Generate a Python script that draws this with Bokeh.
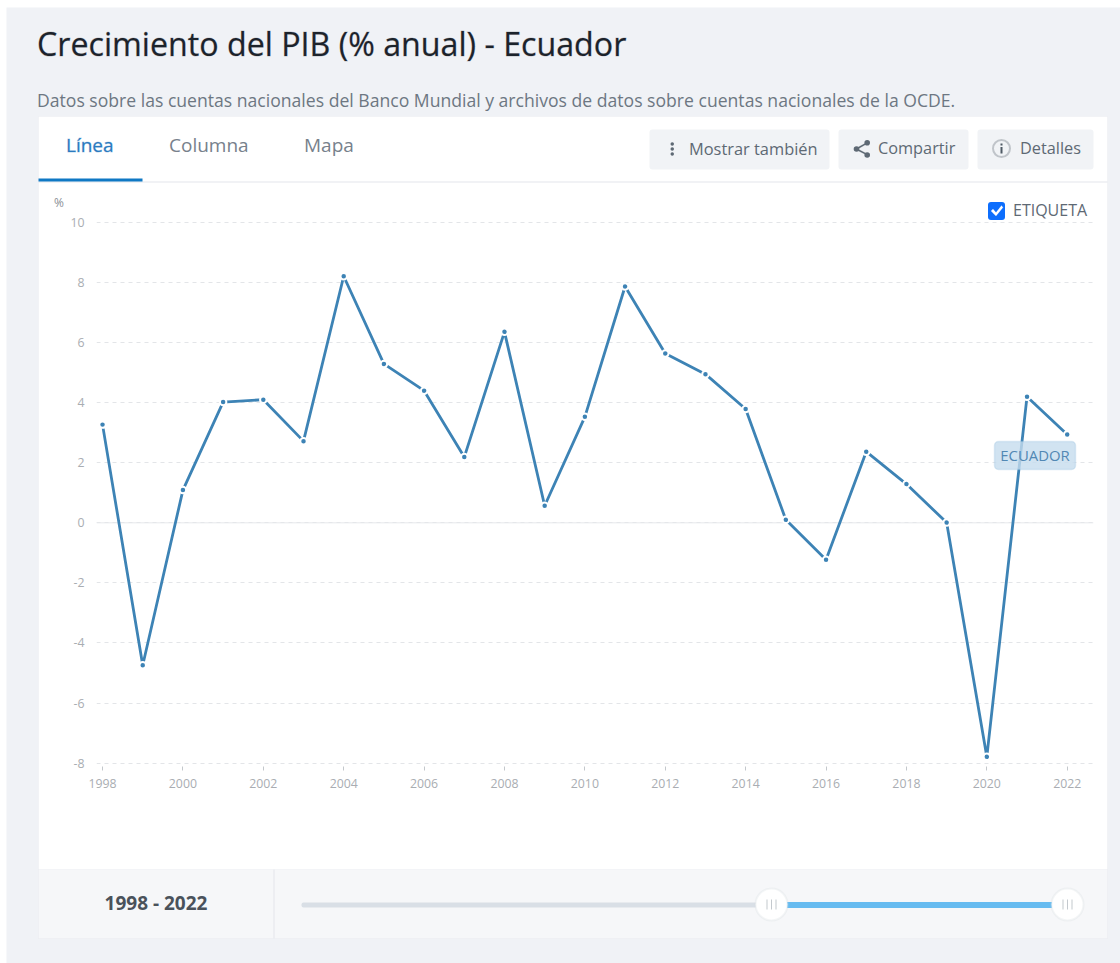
from bokeh.plotting import figure
from bokeh.models import Range1d, FixedTicker, Label, BoxAnnotation, PolyAnnotation, Span, PrintfTickFormatter
from bokeh.embed import file_html
from bokeh.resources import INLINE

years = list(range(1998, 2023))
growth = [3.27, -4.74, 1.09, 4.02, 4.10, 2.72, 8.21, 5.29, 4.40, 2.19, 6.36, 0.57, 3.53,
          7.87, 5.64, 4.95, 3.79, 0.10, -1.23, 2.37, 1.29, 0.01, -7.79, 4.20, 2.94]
x_ticks = list(range(1998, 2023, 2))
y_ticks = list(range(-8, 11, 2))
title = "Crecimiento del PIB (% anual) - Ecuador"
subtitle = "Datos sobre las cuentas nacionales del Banco Mundial y archivos de datos sobre cuentas nacionales de la OCDE."
tabs = ["Línea", "Columna", "Mapa"]
buttons = ["Mostrar también", "Compartir", "Detalles"]
series_name = "ECUADOR"
period = "1998 - 2022"

FONT = "Open Sans"
LINE = "#3d83b5"
PLACE = {"position": "absolute", "left": "0px", "top": "0px"}

# page furniture: a figure whose frame is the whole canvas
bg = figure(width=1120, height=963, output_backend="svg", toolbar_location=None,
            x_range=Range1d(0, 1120), y_range=Range1d(963, 0),
            x_axis_location=None, y_axis_location=None,
            min_border=0, border_fill_color="white", background_fill_color="white",
            outline_line_color=None, styles=PLACE)
bg.grid.visible = False

# the chart itself lies over it, transparent
p = figure(width=1120, height=963, output_backend="svg", toolbar_location=None,
           x_range=Range1d(1997.85, 2022.654), y_range=Range1d(-8.113, 10.133),
           min_border_left=96, min_border_right=27, min_border_top=218, min_border_bottom=197,
           border_fill_color=None, background_fill_color=None, outline_line_color=None,
           styles=PLACE)


def box(l, t, r, b, fill, line=None, lw=1, radius=0, fig=bg, level="annotation", alpha=1.0):
    a = BoxAnnotation(left=l, right=r, top=t, bottom=b, left_units="canvas", right_units="canvas",
                      top_units="canvas", bottom_units="canvas", fill_color=fill, fill_alpha=alpha,
                      line_color=line, line_width=lw, border_radius=radius, level=level, editable=False)
    fig.add_layout(a)


def label(x, y, text, size, color, align="left", style="normal", fig=bg, level="annotation", outline=None):
    fig.add_layout(Label(x=x, y=y, x_units="canvas", y_units="canvas", text=text, text_font=FONT,
                         text_font_size=f"{size}px", text_color=color, text_align=align,
                         text_baseline="middle", text_font_style=style, level=level,
                         text_outline_color=outline))


def poly(xs, ys, color):
    bg.add_layout(PolyAnnotation(xs=xs, ys=ys, xs_units="canvas", ys_units="canvas", fill_color=color,
                                 fill_alpha=1, line_color=color, line_width=0.5, level="annotation",
                                 editable=False))


# page and card
box(6, 7, 1120, 963, "#f0f2f6")
EDGE = "#e3e6eb"
box(38, 116, 1107, 938, "white", EDGE)
box(38, 869, 1107, 938, "#f6f7f9", EDGE)
box(273, 869, 274, 938, EDGE)
box(38, 181, 1107, 182, EDGE)
box(38, 178, 142, 181, "#0f78c4")

# header
label(36.5, 43, title, 32.2, "#1c232b", outline="#1c232b40")
label(36.5, 99.5, subtitle, 17.6, "#6d7782")
label(65.5, 144.5, tabs[0], 19, "#2a7abf", outline="#2a7abf50")
label(168.5, 144.5, tabs[1], 19, "#77818c")
label(303.5, 144.5, tabs[2], 19, "#77818c")

# buttons
for l, r in [(649, 829), (838, 968), (977, 1093)]:
    box(l, 129, r, 169, "#f1f3f6", radius=3)
TXT = "#5e6974"
label(688.5, 147.5, buttons[0], 16.4, TXT)
label(877.5, 147.5, buttons[1], 16.3, TXT)
label(1019.5, 147.5, buttons[2], 16.3, TXT)
for y in (143.5, 148.5, 153.5):
    box(670, y - 1.7, 673.5, y + 1.7, TXT, radius=2)
poly([856, 867, 867, 857.5, 867, 867, 856], [147.5, 141.5, 143, 148.5, 153.5, 155, 149.5], TXT)
for cx, cy in [(856, 148.5), (866.7, 142.3), (866.7, 154.5)]:
    box(cx - 2.8, cy - 2.8, cx + 2.8, cy + 2.8, TXT, radius=3)
box(992.5, 139.5, 1009.5, 156.5, "#f1f3f6", "#4f5a65", lw=2, radius=9)
box(1000, 146.5, 1002, 153, "#4f5a65")
box(1000, 143, 1002, 145, "#4f5a65")

# checkbox
box(987.5, 201.5, 1004.5, 219.5, "#0d6efd", radius=3)
poly([990.5, 992.5, 995.5, 1001, 1002.5, 995.5], [210.5, 208.5, 212, 205, 207, 215.5], "white")
label(1012.5, 209.5, "ETIQUETA", 16, TXT)

# footer
label(155.5, 902.5, period, 19, "#4a525b", align="center", style="bold")
box(301, 902, 760, 907, "#d9dfe6", radius=2)
box(780, 901.5, 1056, 907.5, "#66bbf0")
for cx in (771, 1067):
    box(cx - 16, 888, cx + 16, 920, "white", "#d8dde2", lw=2, radius=16)
    for dx in (-4.5, 0, 4.5):
        box(cx + dx - 0.5, 899, cx + dx + 0.5, 909, "#c4c9ce")
label(53.5, 201.5, "%", 12, "#8b9096")

# axes
p.xaxis.ticker = FixedTicker(ticks=x_ticks)
p.yaxis.ticker = FixedTicker(ticks=y_ticks)
p.yaxis.formatter = PrintfTickFormatter(format="%d")
p.xgrid.visible = False
p.ygrid.ticker = FixedTicker(ticks=y_ticks)
p.ygrid.grid_line_color = "#e3e5e8"
p.ygrid.grid_line_dash = "4 4"
p.xaxis.axis_line_color = None
p.yaxis.axis_line_color = None
p.xaxis.major_tick_line_color = "#c4c8cc"
p.xaxis.major_tick_in = 0
p.xaxis.major_tick_out = 4
p.xaxis.minor_tick_line_color = None
p.yaxis.major_tick_line_color = None
p.yaxis.minor_tick_line_color = None
p.xaxis.major_label_standoff = 8
p.yaxis.major_label_standoff = 6
for ax in (p.xaxis[0], p.yaxis[0]):
    ax.major_label_text_font = FONT
    ax.major_label_text_font_size = "12.3px"
    ax.major_label_text_color = "#a9adb2"

p.add_layout(Span(location=0, dimension="width", line_color="#e6e8eb", line_width=1, level="underlay"))

# data
p.line(years, growth, line_color=LINE, line_width=2.8)
p.scatter(years, growth, size=6.5, fill_color=LINE, line_color="white", line_width=2)

# series tag
box(994, 441, 1075, 469, "#c5dcee", "#9cc4e0", lw=1.5, radius=4, fig=p, level="overlay", alpha=0.8)
label(1034.5, 454.5, series_name, 14.9, "#5288b4", align="center", fig=p, level="overlay")

open("out.html", "w").write(file_html([bg, p], INLINE))
